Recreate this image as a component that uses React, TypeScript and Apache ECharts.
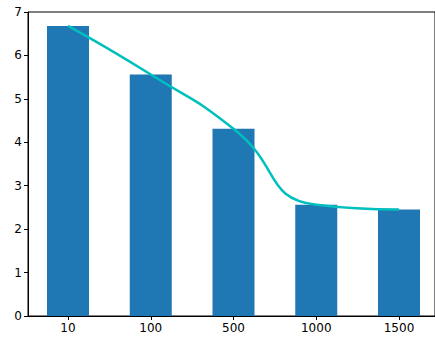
import React, { useEffect, useRef } from "react";
import * as echarts from "echarts";

const categories = ["10", "100", "500", "1000", "1500"];
const barValues = [6.68, 5.56, 4.31, 2.56, 2.45];
const yTicks = [0, 1, 2, 3, 4, 5, 6, 7];

export default function App() {
  const ref = useRef<HTMLDivElement>(null);
  useEffect(() => {
    if (!ref.current) return;
    const chart = echarts.init(ref.current, undefined, { renderer: "svg" });
    const pos = categories.map((_, i) => i);
    const font = { fontFamily: "DejaVu Sans", fontSize: 12, color: "#000" };
    const isInt = (v: number) => Math.abs(v - Math.round(v)) < 1e-6;
    chart.setOption({
      animation: false,
      grid: {
        left: 28,
        top: 12,
        right: 0,
        bottom: 21,
        show: true,
        borderColor: "#000",
        borderWidth: 1,
        backgroundColor: "transparent",
      },
      xAxis: {
        type: "value",
        min: -0.4834,
        max: 4.435,
        splitNumber: 5,
        splitLine: { show: false },
        axisLine: { show: true, onZero: false, lineStyle: { color: "#000", width: 1 } },
        axisTick: {
          show: true,
          inside: false,
          length: 4,
          lineStyle: { color: "#000" },
        },
        axisLabel: {
          ...font,
          margin: 6,
          showMinLabel: false,
          showMaxLabel: false,
          formatter: (v: number) => (isInt(v) && v >= 0 && v < categories.length ? categories[Math.round(v)] : ""),
        },
      },
      yAxis: {
        type: "value",
        min: 0,
        max: 7,
        interval: 1,
        splitLine: { show: false },
        axisLine: { show: true, onZero: false, lineStyle: { color: "#000", width: 1 } },
        axisTick: { show: true, inside: false, length: 4, lineStyle: { color: "#000" } },
        axisLabel: {
          ...font,
          margin: 6,
          formatter: (v: number) => (yTicks.includes(v) ? String(v) : ""),
        },
      },
      series: [
        {
          type: "bar",
          data: barValues.map((v, i) => [pos[i], v]),
          barWidth: 42,
          itemStyle: { color: "#1f77b4" },
        },
        {
          type: "line",
          data: barValues.map((v, i) => [pos[i], v]),
          smooth: 0.55,
          symbol: "none",
          lineStyle: { color: "#00bfbf", width: 2.5 },
          z: 5,
        },
      ],
    });
    return () => chart.dispose();
  }, []);
  return <div ref={ref} style={{ width: 435, height: 337, position: "absolute", left: 0, top: 0 }} />;
}
